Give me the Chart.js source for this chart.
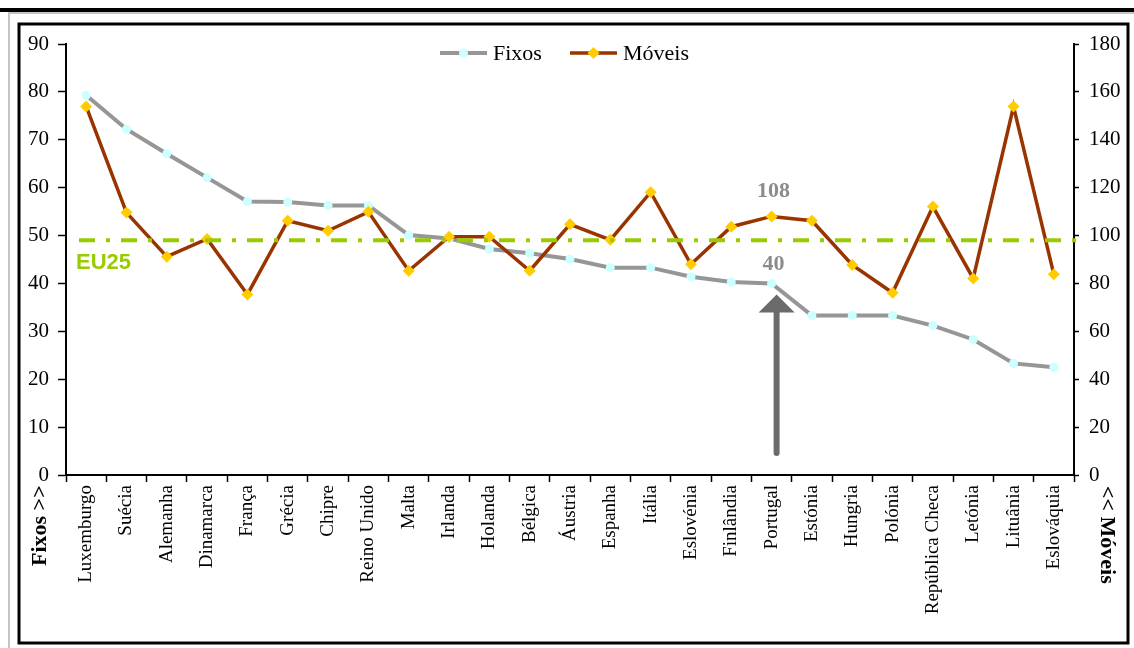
<!DOCTYPE html>
<html>
<head>
<meta charset="utf-8">
<script src="https://cdn.jsdelivr.net/npm/chart.js@4.4.1/dist/chart.umd.min.js"></script>
<style>
  html, body { margin: 0; padding: 0; background: #fff; }
  #wrap { width: 1134px; height: 648px; }
</style>
</head>
<body>
<div id="wrap"><canvas id="c" width="1134" height="648"></canvas></div>
<script>
// Países da UE25, ordenados pela penetração de telefones fixos
const paises = ['Luxemburgo', 'Suécia', 'Alemanha', 'Dinamarca', 'França', 'Grécia', 'Chipre',
  'Reino Unido', 'Malta', 'Irlanda', 'Holanda', 'Bélgica', 'Áustria', 'Espanha', 'Itália',
  'Eslovénia', 'Finlândia', 'Portugal', 'Estónia', 'Hungria', 'Polónia', 'República Checa',
  'Letónia', 'Lituânia', 'Eslováquia'];

// Acessos fixos por 100 habitantes (eixo da esquerda)
const fixos = [79.3, 72.2, 67.1, 62.1, 57.1, 57.0, 56.3, 56.3, 50.1, 49.4, 47.2, 46.3, 45.1,
  43.3, 43.3, 41.4, 40.3, 40, 33.3, 33.3, 33.3, 31.2, 28.3, 23.3, 22.5];

// Acessos móveis por 100 habitantes (eixo da direita)
const moveis = [153.9, 109.6, 91.2, 98.6, 75.4, 106.2, 102.0, 109.9, 85.3, 99.5, 99.5, 85.3,
  104.7, 98.2, 118.1, 88.0, 103.7, 108, 106.2, 87.7, 76.1, 112.1, 82.1, 153.9, 83.8];

// Média UE25 dos móveis (eixo da direita)
const mediaEU25 = 98;
const paisDestaque = 'Portugal';

const serif = "'Liberation Serif', 'Times New Roman', serif";
const sans = "'Liberation Sans', Arial, sans-serif";

// Moldura da figura
const moldura = {
  id: 'moldura',
  beforeDraw(chart) {
    const ctx = chart.ctx;
    ctx.save();
    ctx.fillStyle = '#fff';
    ctx.fillRect(0, 0, chart.width, chart.height);
    ctx.fillStyle = '#000';
    ctx.fillRect(0, 8, chart.width, 4);
    ctx.fillStyle = '#c4c4c4';
    ctx.fillRect(8, 12, chart.width - 8, 2);
    ctx.fillRect(8, 12, 2, chart.height - 12);
    ctx.strokeStyle = '#000';
    ctx.lineWidth = 3;
    ctx.strokeRect(19, 24, 1109, 619);
    ctx.restore();
  }
};

// Linha EU25, legenda, seta e rótulos de Portugal
const anotacoes = {
  id: 'anotacoes',
  afterDatasetsDraw(chart) {
    const ctx = chart.ctx;
    const area = chart.chartArea;
    const x = chart.scales.x, y = chart.scales.y, y2 = chart.scales.y2;
    ctx.save();

    // Linha da média EU25
    const yEU = y2.getPixelForValue(mediaEU25);
    ctx.strokeStyle = '#99cc00';
    ctx.lineWidth = 4;
    ctx.setLineDash([16, 11, 4, 11]);
    ctx.beginPath();
    ctx.moveTo(area.left + 13, yEU);
    ctx.lineTo(area.right + 2, yEU);
    ctx.stroke();
    ctx.setLineDash([]);
    ctx.fillStyle = '#99cc00';
    ctx.font = 'bold 22px ' + sans;
    ctx.textAlign = 'left';
    ctx.textBaseline = 'middle';
    ctx.fillText('EU25', area.left + 10, yEU + 23);

    // Seta e valores de Portugal
    const i = paises.indexOf(paisDestaque);
    const px = x.getPixelForValue(i);
    const pyF = y.getPixelForValue(fixos[i]);
    const pyM = y2.getPixelForValue(moveis[i]);
    const ax = px + 5;
    const tip = pyF + 11;
    ctx.strokeStyle = '#6b6b6b';
    ctx.fillStyle = '#6b6b6b';
    ctx.lineWidth = 6;
    ctx.lineCap = 'round';
    ctx.beginPath();
    ctx.moveTo(ax, area.bottom - 22);
    ctx.lineTo(ax, tip + 16);
    ctx.stroke();
    ctx.beginPath();
    ctx.moveTo(ax, tip);
    ctx.lineTo(ax + 18, tip + 18);
    ctx.lineTo(ax - 18, tip + 18);
    ctx.closePath();
    ctx.fill();

    ctx.fillStyle = '#8c8c8c';
    ctx.font = 'bold 22px ' + serif;
    ctx.textAlign = 'center';
    ctx.textBaseline = 'middle';
    ctx.fillText(String(Math.round(moveis[i])), px + 2, pyM - 25);
    ctx.fillText(String(Math.round(fixos[i])), px + 2, pyF - 19);

    // Legenda
    const ly = 53;
    const cx = (area.left + area.right) / 2;
    const itens = [
      { ds: chart.data.datasets[0], x0: cx - 130 },
      { ds: chart.data.datasets[1], x0: cx },
    ];
    ctx.font = '22px ' + serif;
    ctx.textAlign = 'left';
    for (const it of itens) {
      ctx.strokeStyle = it.ds.borderColor;
      ctx.lineWidth = it.ds.borderWidth;
      ctx.lineCap = 'butt';
      ctx.beginPath();
      ctx.moveTo(it.x0, ly);
      ctx.lineTo(it.x0 + 47, ly);
      ctx.stroke();
      ctx.fillStyle = it.ds.pointBackgroundColor;
      const mx = it.x0 + 23.5;
      ctx.beginPath();
      if (it.ds.pointStyle === 'rectRot') {
        const r = it.ds.pointRadius;
        ctx.moveTo(mx, ly - r); ctx.lineTo(mx + r, ly); ctx.lineTo(mx, ly + r); ctx.lineTo(mx - r, ly);
        ctx.closePath();
      } else {
        ctx.arc(mx, ly, it.ds.pointRadius, 0, Math.PI * 2);
      }
      ctx.fill();
      ctx.fillStyle = '#000';
      ctx.fillText(it.ds.label, it.x0 + 53, ly + 1);
    }

    // Títulos dos eixos
    ctx.font = 'bold 22px ' + serif;
    ctx.fillStyle = '#000';
    ctx.textAlign = 'left';
    ctx.textBaseline = 'middle';
    ctx.save();
    ctx.translate(40, 566);
    ctx.rotate(-Math.PI / 2);
    ctx.fillText('Fixos >>', 0, 0);
    ctx.restore();
    ctx.save();
    ctx.translate(1107, 486);
    ctx.rotate(Math.PI / 2);
    ctx.fillText('<< Móveis', 0, 0);
    ctx.restore();

    ctx.restore();
  }
};

const tickFont = { family: serif, size: 21 };

new Chart(document.getElementById('c'), {
  type: 'line',
  data: {
    labels: paises,
    datasets: [
      {
        label: 'Fixos',
        data: fixos,
        yAxisID: 'y',
        borderColor: '#969696',
        borderWidth: 4,
        pointStyle: 'circle',
        pointRadius: 4.5,
        pointBorderWidth: 0,
        pointBackgroundColor: '#ccffff',
        tension: 0,
        order: 1
      },
      {
        label: 'Móveis',
        data: moveis,
        yAxisID: 'y2',
        borderColor: '#993300',
        borderWidth: 3.5,
        pointStyle: 'rectRot',
        pointRadius: 6,
        pointBorderWidth: 0,
        pointBackgroundColor: '#ffcc00',
        tension: 0,
        order: 0
      }
    ]
  },
  options: {
    responsive: false,
    animation: false,
    devicePixelRatio: 1,
    layout: { padding: { top: 44, left: 0, right: 0, bottom: 0 } },
    plugins: { legend: { display: false }, tooltip: { enabled: false } },
    scales: {
      x: {
        type: 'category',
        offset: true,
        grid: { offset: true, drawOnChartArea: false, color: '#000', tickLength: 7, tickWidth: 1.5 },
        border: { color: '#000', width: 2 },
        ticks: { autoSkip: false, minRotation: 90, maxRotation: 90, color: '#000', font: { family: serif, size: 19 }, padding: 3 },
        afterFit(s) { s.height = 173; }
      },
      y: {
        position: 'left',
        min: 0, max: 90,
        ticks: { stepSize: 10, color: '#000', font: tickFont, padding: 9 },
        grid: { drawOnChartArea: false, color: '#000', tickLength: 8, tickWidth: 1.5 },
        border: { color: '#000', width: 2 },
        afterFit(s) { s.width = 66; }
      },
      y2: {
        position: 'right',
        min: 0, max: 180,
        ticks: { stepSize: 20, color: '#000', font: tickFont, padding: 10 },
        grid: { drawOnChartArea: false, color: '#000', tickLength: 5, tickWidth: 1.5 },
        border: { color: '#000', width: 2 },
        afterFit(s) { s.width = 60; }
      }
    }
  },
  plugins: [moldura, anotacoes]
});
</script>
</body>
</html>
